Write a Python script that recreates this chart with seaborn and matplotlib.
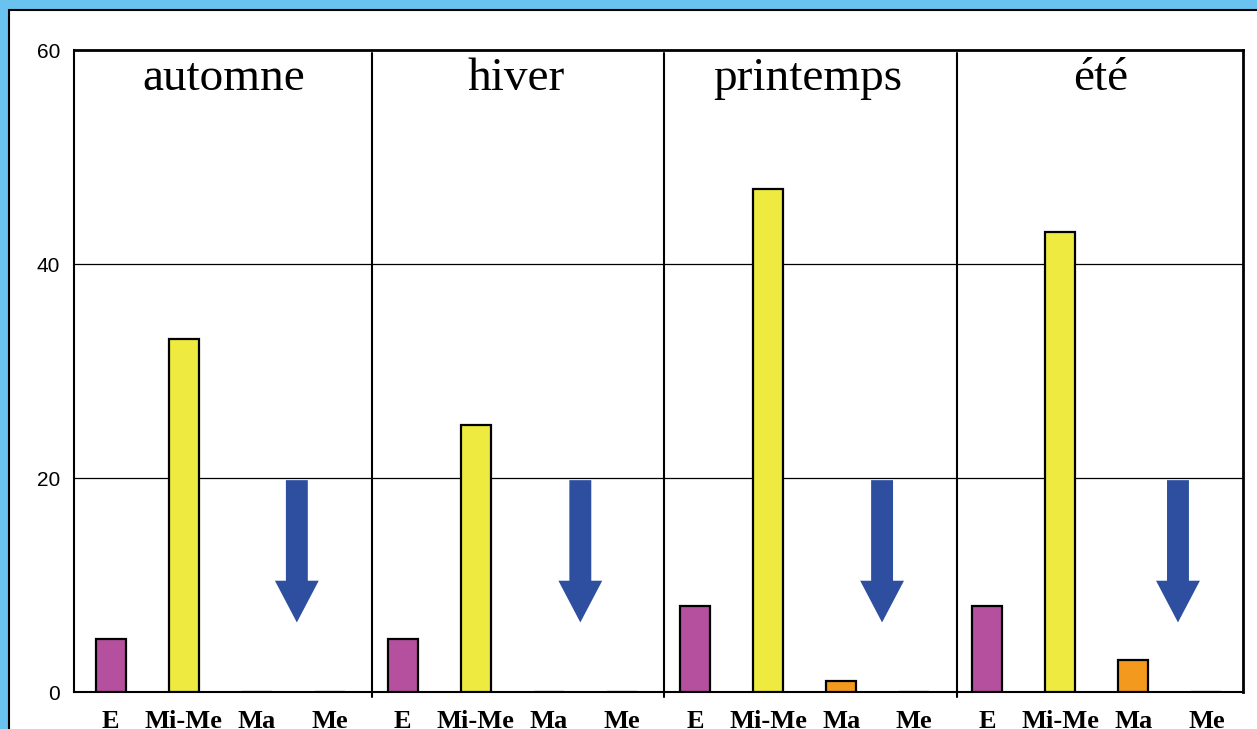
import matplotlib
matplotlib.use("Agg")
import matplotlib.pyplot as plt
from matplotlib.patches import Rectangle, FancyArrow
import seaborn as sns
import pandas as pd

seasons = ["automne", "hiver", "printemps", "été"]
groups = ["E", "Mi-Me", "Ma", "Me"]
values_automne = [5, 33, 0, 0]
values_hiver = [5, 25, 0, 0]
values_printemps = [8, 47, 1, 0]
values_ete = [8, 43, 3, 0]
y_ticks = [0, 20, 40, 60]

# arrow annotation: from top value down to tip value, x offset within each panel
arrow_top = 19.8
arrow_tip = 6.5
arrow_offsets = [2.55, 2.43, 2.56, 2.61]

colors = {"E": "#B5509E", "Mi-Me": "#EEEA40", "Ma": "#F3991E", "Me": "#FFFFFF"}

rows = []
for s, vals in zip(seasons, [values_automne, values_hiver, values_printemps, values_ete]):
    for g, v in zip(groups, vals):
        rows.append({"slot": s + "|" + g, "season": s, "group": g, "value": v})
df = pd.DataFrame(rows)

sns.set_style("white")
plt.rcParams["text.color"] = "black"
plt.rcParams["xtick.color"] = "black"
plt.rcParams["ytick.color"] = "black"

fig = plt.figure(figsize=(12.57, 7.29), dpi=100)
fig.patch.set_facecolor("#6AC3EE")
fig.patches.append(Rectangle((9 / 1257, -0.2), 1.2, 1 - 10 / 729 + 0.2,
                             transform=fig.transFigure, facecolor="white",
                             edgecolor="black", linewidth=1.5, zorder=-10))

ax = fig.add_axes([74 / 1257, 1 - 692 / 729, (1243 - 74) / 1257, (692 - 50) / 729])
ax.set_facecolor("none")

sns.barplot(data=df, x="slot", y="value", hue="group", palette=colors, dodge=False,
            saturation=1, width=0.41, edgecolor="black", linewidth=1.6,
            legend=False, ax=ax, zorder=3)

ax.set_ylim(0, 60)
ax.set_xlim(-0.5, len(df) - 0.5)
ax.set_yticks(y_ticks)
ax.set_yticklabels([str(t) for t in y_ticks], fontsize=15, family="Liberation Sans")
ax.tick_params(axis="y", direction="out", length=6, width=1, color="black", pad=4)
ax.set_xticks(range(len(df)))
ax.set_xticklabels(df["group"], fontsize=19, family="Liberation Serif", fontweight="bold")
ax.tick_params(axis="x", length=0, pad=13)
ax.set_xlabel("")
ax.set_ylabel("")

for t in y_ticks[1:-1]:
    ax.axhline(t, color="black", linewidth=0.9, zorder=1)

for sp in ax.spines.values():
    sp.set_color("black")
    sp.set_linewidth(1.5)
    sp.set_visible(True)
ax.spines["top"].set_linewidth(2)
ax.spines["right"].set_linewidth(2)

n = len(groups)
for i, s in enumerate(seasons):
    if i > 0:
        xd = i * n - 0.5 + 0.08
        ax.plot([xd, xd], [-0.45, 59.7], color="black", linewidth=1.5, clip_on=False, zorder=2)
    ax.text(i * n + (n - 1) / 2 + 0.05, 57.3, s, ha="center", va="center",
            fontsize=34, family="Liberation Serif", zorder=4)
    xa = i * n + arrow_offsets[i]
    ax.add_patch(FancyArrow(xa, arrow_top, 0, arrow_tip - arrow_top, width=0.30,
                            head_width=0.60, head_length=3.9, length_includes_head=True,
                            facecolor="#2E4FA0", edgecolor="none", zorder=4))

fig.savefig("out.png", dpi=100, facecolor=fig.get_facecolor())
